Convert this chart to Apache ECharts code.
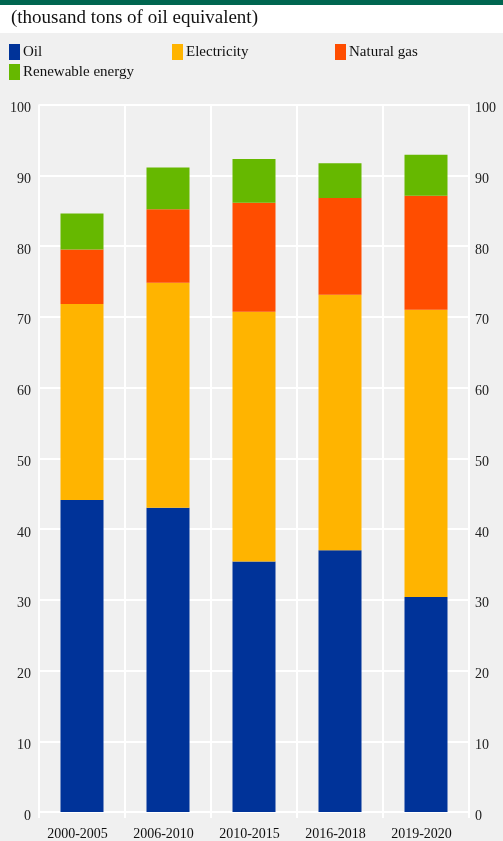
<!DOCTYPE html>
<html><head><meta charset="utf-8">
<script src="https://cdn.jsdelivr.net/npm/echarts@6/dist/echarts.min.js"></script>
<style>html,body{margin:0;padding:0;background:#f0f0f0}#c{width:503px;height:841px}</style>
</head><body><div id="c"></div>
<script>
const categories = ['2000-2005','2006-2010','2010-2015','2016-2018','2019-2020'];
const oil = [44.1, 43.0, 35.4, 37.0, 30.4];
const electricity = [27.7, 31.8, 35.3, 36.1, 40.6];
const naturalGas = [7.7, 10.4, 15.4, 13.7, 16.1];
const renewable = [5.1, 5.9, 6.2, 4.9, 5.8];
const yTicks = [0,10,20,30,40,50,60,70,80,90,100];

const font = '"Liberation Serif","Times New Roman",serif';
const names = ['Oil','Electricity','Natural gas','Renewable energy'];
const colors = ['#003399','#FFB400','#FF4D00','#66B800'];
const datas = [oil, electricity, naturalGas, renewable];
const legendPos = [[6,42],[169,42],[332,42],[6,62]];

const chart = echarts.init(document.getElementById('c'), null, {renderer:'canvas'});
const yAxisBase = {
  type:'value', min:yTicks[0], max:yTicks[yTicks.length-1], interval:10,
  axisLine:{show:false}, axisTick:{show:false},
  axisLabel:{fontFamily:font, fontSize:14, color:'#222', verticalAlign:'top', lineHeight:8}
};
chart.setOption({
  backgroundColor:'#f0f0f0',
  animation:false,
  graphic:[
    {type:'rect', shape:{x:0,y:0,width:503,height:5}, style:{fill:'#006650'}, z:-1},
    {type:'rect', shape:{x:0,y:5,width:503,height:28}, style:{fill:'#ffffff'}, z:-1},
    {type:'text', left:11, top:9, style:{text:'(thousand tons of oil equivalent)', font:'19px '+font, fill:'#111'}}
  ],
  legend: names.map((n,i)=>({
    data:[n], left:legendPos[i][0], top:legendPos[i][1], itemWidth:11, itemHeight:16, itemGap:0,
    icon:'rect', padding:[2,3],
    textStyle:{fontFamily:font, fontSize:15, color:'#111', padding:[3,0,0,-2]}
  })),
  grid:{left:39, right:34, top:104.5, bottom:28.7},
  xAxis:{
    type:'category', data:categories,
    axisLine:{show:true, lineStyle:{color:'#fff', width:2}},
    axisTick:{show:true, length:6, lineStyle:{color:'#fff', width:2}},
    splitLine:{show:true, lineStyle:{color:'#fff', width:2}},
    axisLabel:{fontFamily:font, fontSize:14, color:'#111', margin:15, padding:[0,9,0,0]}
  },
  yAxis:[
    Object.assign({}, yAxisBase, {position:'left', splitLine:{show:true, lineStyle:{color:'#fff', width:2}}, axisLabel:Object.assign({}, yAxisBase.axisLabel, {margin:8})}),
    Object.assign({}, yAxisBase, {position:'right', splitLine:{show:false}, axisLabel:Object.assign({}, yAxisBase.axisLabel, {margin:6})})
  ],
  series: names.map((n,i)=>({
    name:n, type:'bar', stack:'total', data:datas[i], barWidth:'50%',
    itemStyle:{color:colors[i]}, yAxisIndex:0
  }))
});
</script></body></html>
